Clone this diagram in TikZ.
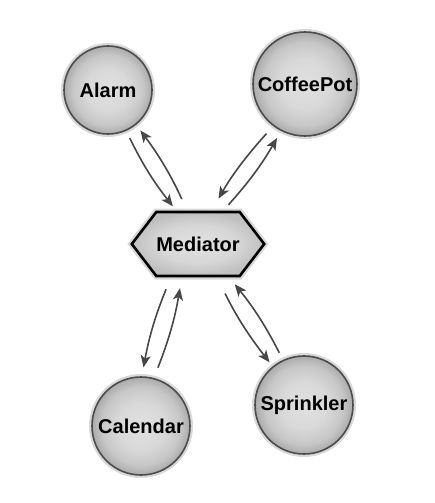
\documentclass[tikz,border=0pt]{standalone}
\usepackage{fontspec}
\setmainfont{Liberation Sans}
\usetikzlibrary{shapes.symbols,arrows.meta}

\pgfdeclareradialshading{ballshade}{\pgfpoint{0bp}{0bp}}{color(0bp)=(gray!24); color(12bp)=(gray!30); color(20bp)=(gray!44); color(25bp)=(gray!66); color(50bp)=(gray!66)}
\pgfdeclareradialshading{medshade}{\pgfpoint{0bp}{0bp}}{color(0bp)=(gray!22); color(15bp)=(gray!32); color(25bp)=(gray!50); color(50bp)=(gray!50)}

\begin{document}
\begin{tikzpicture}[x=1pt,y=-1pt,
	ball/.style={circle,draw=black!70,line width=1.6pt,shading=ballshade,
		preaction={draw=gray!30,line width=6pt},minimum size=#1,inner sep=0pt,
		font=\fontsize{20}{24}\selectfont\bfseries},
	mediatorbox/.style={signal,signal to=west and east,signal pointer angle=105,
		draw=black,line width=2.6pt,shading=medshade,inner xsep=0pt,minimum height=64pt,
		preaction={draw=gray!30,line width=7pt},
		font=\fontsize{20}{24}\selectfont\bfseries},
	msg/.style={draw=black!72,line width=1.6pt,-{Stealth[length=12pt,width=10pt,inset=3pt]}}]
			\useasboundingbox (0,0) rectangle (435,503);
			% Mediator
			\node[mediatorbox] (mediator) at (198,244) {Mediator};
			% Kollegen
			\node[ball=88pt] (alarm) at (108,90) {Alarm};
			\node[ball=104pt] (coffeepot) at (305,84) {CoffeePot};
			\node[ball=98pt] (calendar) at (141,426) {Calendar};
			\node[ball=98pt] (sprinkler) at (304,405) {Sprinkler};
			
			% Alarm <-> Mediator
			\draw[msg,shorten <=8pt,shorten >=6pt] (alarm.-66) to[bend right=6] (mediator.123);
			\draw[msg,shorten <=13pt,shorten >=7pt] (mediator.108) to[bend right=6] (alarm.-51);
			% CoffeePot <-> Mediator
			\draw[msg,shorten <=10pt,shorten >=14pt] (coffeepot.233) to[bend right=6] (mediator.68);
			\draw[msg,shorten <=8pt,shorten >=8pt] (mediator.53) to[bend right=6] (coffeepot.243);
			% Calendar <-> Mediator
			\draw[msg,shorten <=13pt,shorten >=9pt] (mediator.231) to[bend right=6] (calendar.89);
			\draw[msg,shorten <=11pt,shorten >=11pt] (calendar.75) to[bend right=6] (mediator.244);
			% Sprinkler <-> Mediator
			\draw[msg,shorten <=18pt,shorten >=5pt] (mediator.-60) to[bend right=6] (sprinkler.129);
			\draw[msg,shorten <=8pt,shorten >=9pt] (sprinkler.115) to[bend right=6] (mediator.-47);
			
\end{tikzpicture}
\end{document}
